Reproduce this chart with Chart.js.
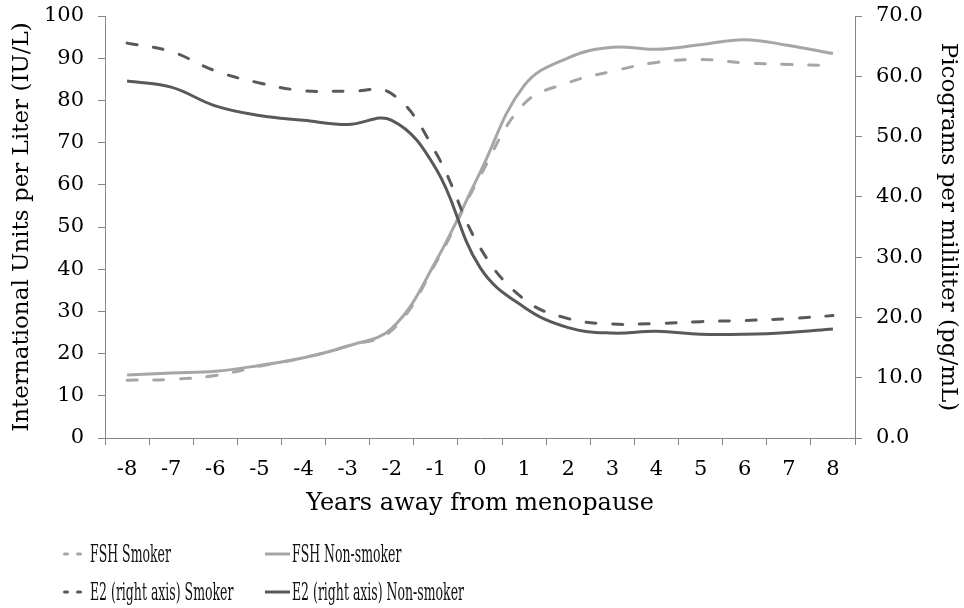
<!DOCTYPE html>
<html>
<head>
<meta charset="utf-8">
<script src="https://cdn.jsdelivr.net/npm/chart.js@4.4.1/dist/chart.umd.min.js"></script>
<style>
  html, body { margin: 0; padding: 0; background: #ffffff; }
  #wrap { width: 964px; height: 608px; position: relative; }
</style>
</head>
<body>
<div id="wrap"><canvas id="c" width="964" height="608"></canvas></div>
<script>
// ---- Data ----
const years = ["-8","-7","-6","-5","-4","-3","-2","-1","0","1","2","3","4","5","6","7","8"];
const fshSmoker    = [13.7, 13.9, 14.8, 17.0, 19.0, 21.8, 25.5, 41.5, 62.0, 79.2, 84.2, 86.9, 89.0, 89.7, 88.9, 88.5, 88.3];
const fshNonSmoker = [14.9, 15.4, 15.8, 17.2, 19.0, 21.8, 26.0, 41.9, 62.9, 83.5, 90.1, 92.6, 92.1, 93.2, 94.4, 93.0, 91.1];
const e2Smoker     = [65.5, 64.1, 60.9, 58.9, 57.6, 57.5, 57.1, 47.3, 31.6, 23.0, 19.8, 18.9, 19.0, 19.3, 19.5, 19.8, 20.3];
const e2NonSmoker  = [59.2, 58.2, 55.1, 53.5, 52.7, 52.0, 52.7, 44.7, 28.3, 21.7, 18.3, 17.4, 17.7, 17.2, 17.2, 17.5, 18.1];
const leftTicksMax = 100;
const rightTicksMax = 70;
const seriesNames = ["FSH Smoker", "FSH Non-smoker", "E2 (right axis) Smoker", "E2 (right axis) Non-smoker"];

const FSH_COLOR = "#a6a6a6";
const E2_COLOR = "#595959";
const AXIS_COLOR = "#868686";
const FONT = "'DejaVu Serif', serif";
const DASH = [10, 16.7];

const legendPlugin = {
  id: "customLegend",
  afterDraw(chart) {
    const ctx = chart.ctx;
    const items = [
      { text: seriesNames[0], color: FSH_COLOR, dashed: true,  x: 63, y: 554 },
      { text: seriesNames[1], color: FSH_COLOR, dashed: false, x: 265, y: 554 },
      { text: seriesNames[2], color: E2_COLOR,  dashed: true,  x: 63, y: 592 },
      { text: seriesNames[3], color: E2_COLOR,  dashed: false, x: 265, y: 592 }
    ];
    ctx.save();
    ctx.font = "25px " + FONT;
    const sx = 172 / ctx.measureText(seriesNames[3]).width;
    items.forEach(it => {
      ctx.save();
      ctx.strokeStyle = it.color;
      ctx.lineWidth = 3;
      if (it.dashed) {
        ctx.lineCap = "round";
        ctx.setLineDash([3, 10]);
        ctx.beginPath();
        ctx.moveTo(it.x + 1.5, it.y);
        ctx.lineTo(it.x + 18, it.y);
        ctx.stroke();
      } else {
        ctx.lineCap = "butt";
        ctx.beginPath();
        ctx.moveTo(it.x, it.y);
        ctx.lineTo(it.x + 25, it.y);
        ctx.stroke();
      }
      ctx.restore();
      ctx.save();
      ctx.fillStyle = "#111";
      ctx.textBaseline = "middle";
      ctx.textAlign = "left";
      ctx.translate(it.x + 27, it.y + 1);
      ctx.scale(sx, 1);
      ctx.fillText(it.text, 0, 0);
      ctx.restore();
    });
    ctx.restore();
  }
};

function fixVertical(width) {
  return function (s) { s.width = width; s.paddingTop = 0; s.paddingBottom = 0; };
}

new Chart(document.getElementById("c"), {
  type: "line",
  data: {
    labels: years,
    datasets: [
      { label: seriesNames[0], data: fshSmoker, yAxisID: "y", borderColor: FSH_COLOR, borderDash: DASH, borderCapStyle: "round", order: 4 },
      { label: seriesNames[1], data: fshNonSmoker, yAxisID: "y", borderColor: FSH_COLOR, order: 3 },
      { label: seriesNames[2], data: e2Smoker, yAxisID: "y2", borderColor: E2_COLOR, borderDash: DASH, borderCapStyle: "round", order: 2 },
      { label: seriesNames[3], data: e2NonSmoker, yAxisID: "y2", borderColor: E2_COLOR, order: 1 }
    ]
  },
  options: {
    responsive: false,
    animation: false,
    devicePixelRatio: 1,
    layout: { padding: { top: 16, bottom: 90, left: 0, right: 0 } },
    elements: {
      line: { borderWidth: 3, tension: 0.4, fill: false },
      point: { radius: 0, hoverRadius: 0 }
    },
    plugins: { legend: { display: false }, tooltip: { enabled: false } },
    scales: {
      x: {
        type: "category",
        offset: true,
        grid: { display: true, drawOnChartArea: false, drawTicks: true, tickLength: 7, offset: true, color: AXIS_COLOR },
        border: { display: true, color: AXIS_COLOR, width: 1 },
        ticks: { color: "#000", font: { family: FONT, size: 21 }, padding: 12, maxRotation: 0, autoSkip: false },
        title: { display: true, text: "Years away from menopause", color: "#000", font: { family: FONT, size: 24 }, padding: { top: 4, bottom: 0 } },
        afterFit(s) { s.height = 80; s.paddingLeft = 0; s.paddingRight = 0; }
      },
      y: {
        position: "left",
        min: 0, max: leftTicksMax,
        ticks: { stepSize: 10, color: "#000", font: { family: FONT, size: 21 }, padding: 14 },
        grid: { display: true, drawOnChartArea: false, drawTicks: true, tickLength: 7, color: AXIS_COLOR },
        border: { display: true, color: AXIS_COLOR, width: 1 },
        title: { display: true, text: "International Units per Liter (IU/L)", color: "#000", font: { family: FONT, size: 23 }, padding: { top: 8, bottom: 0 } },
        afterFit: fixVertical(105)
      },
      y2: {
        position: "right",
        min: 0, max: rightTicksMax,
        ticks: { stepSize: 10, color: "#000", font: { family: FONT, size: 21 }, padding: 14, callback: v => Number(v).toFixed(1) },
        grid: { display: true, drawOnChartArea: false, drawTicks: true, tickLength: 7, color: AXIS_COLOR },
        border: { display: true, color: AXIS_COLOR, width: 1 },
        title: { display: true, text: "Picograms per mililiter (pg/mL)", color: "#000", font: { family: FONT, size: 23 }, padding: { top: 2, bottom: 0 } },
        afterFit: fixVertical(109)
      }
    }
  },
  plugins: [legendPlugin]
});
</script>
</body>
</html>
